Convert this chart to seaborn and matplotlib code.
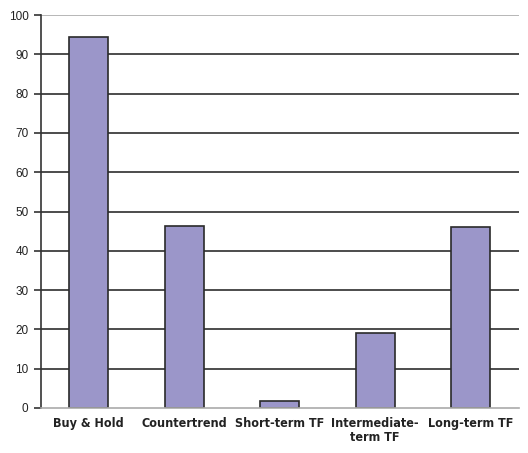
import matplotlib
matplotlib.use("Agg")
import matplotlib.pyplot as plt
import seaborn as sns
import pandas as pd
from matplotlib import font_manager

categories = ["Buy & Hold", "Countertrend", "Short-term TF", "Intermediate-\nterm TF", "Long-term TF"]
values = [94.4, 46.3, 1.8, 19.1, 46.1]
y_ticks = [0, 10, 20, 30, 40, 50, 60, 70, 80, 90, 100]

sns.set_style("white")
plt.rcParams["font.family"] = ["Liberation Sans", "DejaVu Sans"]

# pick a narrow face for the category labels if one is available
narrow = None
for f in font_manager.fontManager.ttflist:
    if ("Narrow" in f.name or "Condensed" in f.name or f.stretch in ("condensed", "semi-condensed")) and f.weight in (700, "bold"):
        narrow = f
        break

df = pd.DataFrame({"strategy": categories, "value": values})

fig = plt.figure(figsize=(5.28, 4.53), dpi=100)
ax = fig.add_axes([41 / 528, 45 / 453, 477.5 / 528, 393 / 453])

# horizontal gridlines drawn behind the bars
for t in y_ticks[1:-1]:
    ax.axhline(t, color="#2e2e2e", lw=1.2, zorder=0)
ax.axhline(100, color="#aaaaaa", lw=1.2, zorder=0)

sns.barplot(data=df, x="strategy", y="value", color="#9b96c9", width=0.41,
            edgecolor="#2a2a2a", linewidth=1.2, saturation=1, ax=ax, zorder=2)

ax.set_xlim(-0.5, 4.5)
ax.set_ylim(0, 100)
ax.set_yticks(y_ticks)
ax.set_xlabel("")
ax.set_ylabel("")

for side in ["top", "right"]:
    ax.spines[side].set_visible(False)
ax.spines["left"].set_color("#333333")
ax.spines["left"].set_linewidth(1.2)
ax.spines["bottom"].set_color("#aaaaaa")
ax.spines["bottom"].set_linewidth(1.2)

ax.tick_params(axis="y", left=True, length=5, width=1.2, color="#333333",
               labelsize=8.5, labelcolor="#222222", pad=4)
ax.tick_params(axis="x", bottom=False, pad=3)
for lbl in ax.get_xticklabels():
    if narrow is not None:
        lbl.set_fontproperties(font_manager.FontProperties(fname=narrow.fname, size=9))
    else:
        lbl.set_fontsize(8.5)
        lbl.set_fontweight("bold")
        lbl.set_fontstretch("condensed")
    lbl.set_color("#222222")
    lbl.set_linespacing(1.1)

fig.savefig("out.png", dpi=100)
